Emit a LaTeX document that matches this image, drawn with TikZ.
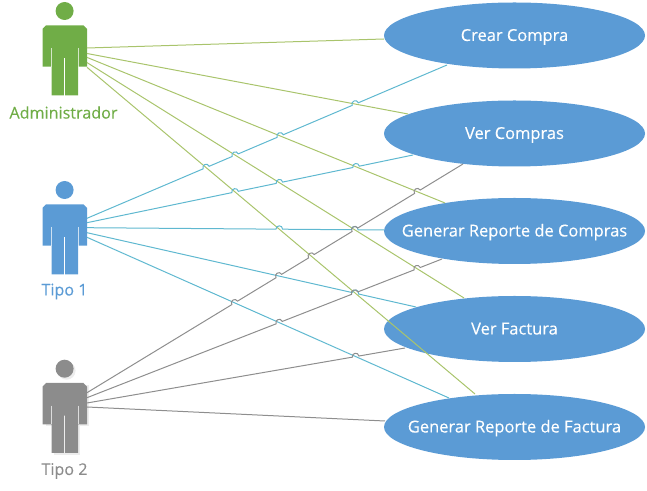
\documentclass[tikz,border=0pt]{standalone}
\usepackage{fontspec}
\setmainfont{Open Sans}
\newfontfamily\ucfont[FakeBold=0.25]{Open Sans}
\usetikzlibrary{calc,shapes.geometric}
\definecolor{cgreen}{HTML}{70AD47}
\definecolor{cblue}{HTML}{5B9BD5}
\definecolor{cgray}{HTML}{8C8C8C}
\definecolor{lgreen}{HTML}{A9C46C}
\definecolor{lblue}{HTML}{5FB8D0}
\definecolor{lgray}{HTML}{8E8E8E}
\tikzset{
  x=0.75pt,y=-0.75pt,
  usecase/.style={ellipse,fill=cblue,text=white,font=\ucfont\fontsize{12.35}{14}\selectfont,minimum width=195.75pt,minimum height=49.5pt,inner sep=0pt,outer sep=0pt},
  actorlabel/.style={font=\ucfont\fontsize{12.1}{14}\selectfont,inner sep=0pt},
  glink/.style={lgreen,line width=0.75pt},
  blink/.style={lblue,line width=0.75pt},
  klink/.style={lgray,line width=0.75pt},
}
\newcommand{\actor}[2]{% top offset, colour
  \fill[#2] (64.6,#1+11) circle[radius=9];
  \fill[#2] (46,#1+25.3) -- (83.5,#1+25.3) -- (87,#1+29) -- (87,#1+66.7) -- (78,#1+66.7) -- (78,#1+95.3) -- (65.2,#1+95.3) -- (65.2,#1+58) -- (63.8,#1+58) -- (63.8,#1+95.3) -- (51.6,#1+95.3) -- (51.6,#1+66.7) -- (42.5,#1+66.7) -- (42.5,#1+29) -- cycle;
  \draw[white,line width=0.6pt,opacity=.7] (51.6,#1+48) -- (51.6,#1+66.7);
  \draw[white,line width=0.6pt,opacity=.7] (78,#1+48) -- (78,#1+66.7);
}
\newcommand{\hopline}[4]{%
  \draw[#1] (#2) foreach \c/\d in {#4} {
    -- ($(intersection cs:first line={(#2)--(#3)},second line={(\c)--(\d)})!2.5pt!(#2)$)
    to[bend left=90,looseness=1.7] ($(intersection cs:first line={(#2)--(#3)},second line={(\c)--(\d)})!2.5pt!(#3)$)
  } -- (#3);
}
\newcommand{\uctext}[1]{\raisebox{-4.1pt}[0pt][0pt]{\makebox[0pt]{#1}}}
\begin{document}
\begin{tikzpicture}
\useasboundingbox (0,0) rectangle (647,491);
% actors
\actor{0}{cgreen}
\actor{179}{cblue}
\begin{scope}[shift={(2,2)}]
\fill[gray!14] (64.6,368.7) circle[radius=9];
\fill[gray!14] (44,383) rectangle (87,424.5);
\fill[gray!14] (51.6,424) rectangle (78,453);
\end{scope}
\actor{357.7}{cgray}
\node[actorlabel,text=cgreen] (adminlabel) at (63.5,112.5) {Administrador};
\node[actorlabel,text=cblue] (tipoalabel) at (64.5,291.5) {Tipo 1};
\node[actorlabel,text=cgray] (tipoblabel) at (64.5,471) {Tipo 2};
% use cases
\node[usecase] (crear) at (514.5,35.5) {\uctext{Crear Compra}};
\node[usecase] (vercompras) at (514.5,133.5) {\uctext{Ver Compras}};
\node[usecase] (gencompras) at (514.5,231) {\uctext{Generar Reporte de Compras}};
\node[usecase] (verfactura) at (514.5,329) {\uctext{Ver Factura}};
\node[usecase] (genfactura) at (514.5,427) {\uctext{Generar Reporte de Factura}};
% line ends
\coordinate (g1s) at (87,48);    \coordinate (g1e) at (384,39);
\coordinate (g2s) at (87,53.5);  \coordinate (g2e) at (408,114);
\coordinate (g3s) at (87,57.4);  \coordinate (g3e) at (445,203);
\coordinate (g4s) at (87,62.6);  \coordinate (g4e) at (464,298);
\coordinate (g5s) at (87,67.3);  \coordinate (g5e) at (475,394);
\coordinate (b1s) at (87,218.3); \coordinate (b1e) at (447,65);
\coordinate (b2s) at (87,222.7); \coordinate (b2e) at (413,155);
\coordinate (b3s) at (87,227.7); \coordinate (b3e) at (384,230);
\coordinate (b4s) at (87,232.7); \coordinate (b4e) at (416,307);
\coordinate (b5s) at (87,237.3); \coordinate (b5e) at (449,398);
\coordinate (k1s) at (87,392.7); \coordinate (k1e) at (463,164);
\coordinate (k2s) at (87,397.7); \coordinate (k2e) at (442,259);
\coordinate (k3s) at (87,403);   \coordinate (k3e) at (405,348);
\coordinate (k4s) at (87,407);   \coordinate (k4e) at (385,421);
% green
\draw[glink] (g1s) -- (g1e);
\draw[glink] (g2s) -- (g2e);
\draw[glink] (g3s) -- (g3e);
\draw[glink] (g4s) -- (g4e);
\draw[glink] (g5s) -- (g5e);
% blue
\hopline{blink}{b1s}{b1e}{g5s/g5e,g4s/g4e,g3s/g3e,g2s/g2e}
\hopline{blink}{b2s}{b2e}{g5s/g5e,g4s/g4e,g3s/g3e}
\hopline{blink}{b3s}{b3e}{g5s/g5e,g4s/g4e}
\hopline{blink}{b4s}{b4e}{g5s/g5e}
\draw[blink] (b5s) -- (b5e);
% gray
\hopline{klink}{k1s}{k1e}{b5s/b5e,b4s/b4e,g5s/g5e,b3s/b3e,g3s/g3e}
\hopline{klink}{k2s}{k2e}{b5s/b5e,b4s/b4e,g4s/g4e}
\hopline{klink}{k3s}{k3e}{b5s/b5e}
\draw[klink] (k4s) -- (k4e);
\end{tikzpicture}
\end{document}
